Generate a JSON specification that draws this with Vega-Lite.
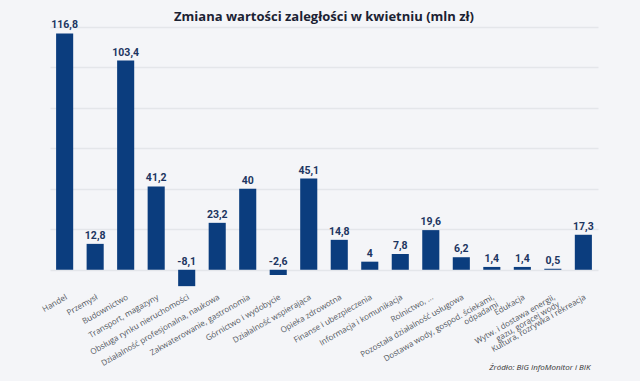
{
  "$schema": "https://vega.github.io/schema/vega-lite/v6.json",
  "width": 548,
  "height": 263,
  "autosize": {"type": "none"},
  "padding": {"left": 50, "top": 27, "right": 42, "bottom": 91},
  "background": "#f4f5f8",
  "title": {
    "text": "Zmiana wartości zaległości w kwietniu (mln zł)",
    "font": "Open Sans",
    "fontSize": 13,
    "fontWeight": "bold",
    "color": "#1b2233",
    "anchor": "middle",
    "baseline": "top",
    "offset": 6,
    "dy": 10
  },
  "data": {
    "values": [
      {"sector": "Handel", "value": 116.8},
      {"sector": "Przemysł", "value": 12.8},
      {"sector": "Budownictwo", "value": 103.4},
      {"sector": "Transport, magazyny", "value": 41.2},
      {"sector": "Obsługa rynku nieruchomości", "value": -8.1},
      {"sector": "Działalność profesjonalna, naukowa", "value": 23.2},
      {"sector": "Zakwaterowanie, gastronomia", "value": 40},
      {"sector": "Górnictwo i wydobycie", "value": -2.6},
      {"sector": "Działalność wspierająca", "value": 45.1},
      {"sector": "Opieka zdrowotna", "value": 14.8},
      {"sector": "Finanse i ubezpieczenia", "value": 4},
      {"sector": "Informacja i komunikacja", "value": 7.8},
      {"sector": "Rolnictwo, ...", "value": 19.6},
      {"sector": "Pozostała działalność usługowa", "value": 6.2},
      {"sector": "Dostawa wody, gospod. ściekami,|odpadami", "value": 1.4},
      {"sector": "Edukacja", "value": 1.4},
      {"sector": "Wytw. i dostawa energii,|gazu, gorącej wody", "value": 0.5},
      {"sector": "Kultura, rozrywka i rekreacja", "value": 17.3}
    ]
  },
  "config": {
    "view": {"stroke": null},
    "locale": {
      "number": {"decimal": ",", "thousands": " ", "grouping": [3], "currency": ["", " zł"], "minus": "-"}
    }
  },
  "encoding": {
    "x": {
      "field": "sector",
      "type": "nominal",
      "sort": null,
      "scale": {"paddingInner": 0.44, "paddingOuter": 0.2},
      "axis": {
        "title": "Źródło: BIG InfoMonitor i BIK",
        "titleFont": "Open Sans",
        "titleFontSize": 8,
        "titleFontStyle": "italic",
        "titleFontWeight": "normal",
        "titleColor": "#333333",
        "titleAnchor": "end",
        "titleAlign": "right",
        "titleBaseline": "middle",
        "titleX": 540,
        "titleY": 77,
        "labelExpr": "split(datum.label, '|')",
        "labelAngle": -30,
        "labelAlign": "right",
        "labelBaseline": "top",
        "labelFont": "Open Sans",
        "labelFontSize": 8.1,
        "labelColor": "#555a63",
        "labelPadding": 3,
        "labelLineHeight": 8.3,
        "domain": false,
        "ticks": false
      }
    }
  },
  "layer": [
    {
      "mark": {"type": "bar", "color": "#0b3d7e"},
      "encoding": {
        "y": {
          "field": "value",
          "type": "quantitative",
          "scale": {"domain": [-10, 120], "nice": false},
          "axis": {
            "title": null,
            "labels": false,
            "ticks": false,
            "domain": false,
            "values": [0, 20, 40, 60, 80, 100, 120],
            "gridColor": "#e4e6ea",
            "gridWidth": 1.5
          }
        }
      }
    },
    {
      "transform": [{"filter": "datum.value >= 0"}],
      "mark": {"type": "text", "baseline": "bottom", "dy": -3, "font": "Roboto", "fontSize": 10.5, "fontWeight": "bold", "color": "#1d3561"},
      "encoding": {
        "y": {"field": "value", "type": "quantitative"},
        "text": {"field": "value", "type": "quantitative", "format": ".1~f"}
      }
    },
    {
      "transform": [{"filter": "datum.value < 0"}],
      "mark": {"type": "text", "baseline": "bottom", "dy": -3, "font": "Roboto", "fontSize": 10.5, "fontWeight": "bold", "color": "#1d3561"},
      "encoding": {
        "y": {"datum": 0, "type": "quantitative"},
        "text": {"field": "value", "type": "quantitative", "format": ".1~f"}
      }
    }
  ]
}
